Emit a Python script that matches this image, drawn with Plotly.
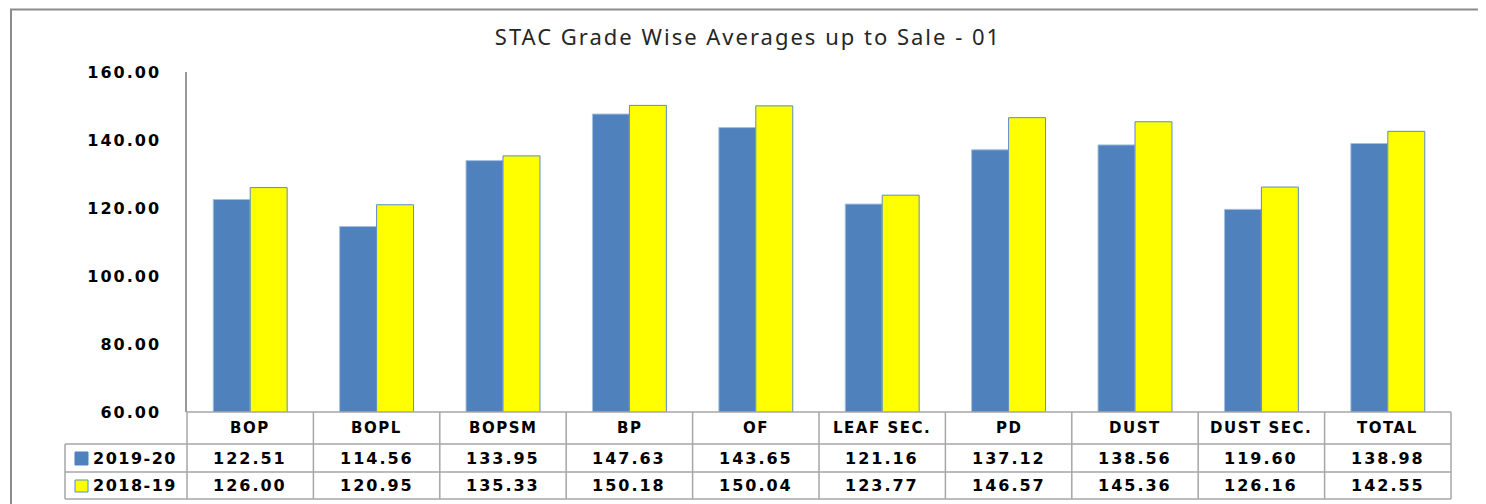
import plotly.graph_objects as go

categories = ["BOP", "BOPL", "BOPSM", "BP", "OF", "LEAF SEC.", "PD", "DUST", "DUST SEC.", "TOTAL"]
series_names = ["2019-20", "2018-19"]
values_2019_20 = [122.51, 114.56, 133.95, 147.63, 143.65, 121.16, 137.12, 138.56, 119.60, 138.98]
values_2018_19 = [126.00, 120.95, 135.33, 150.18, 150.04, 123.77, 146.57, 145.36, 126.16, 142.55]
title_text = "STAC Grade Wise Averages up to Sale - 01"

OFF = 8  # page body margin
W, H = 1486 - OFF, 504 - OFF
# plot area in reference pixels: x 187..1451, y 72..412
L = 187 - OFF
T = 72 - OFF
R = W - (1451 - OFF)
B = H - (412 - OFF)
pw, ph = W - L - R, H - T - B

def px_x(x):  # reference pixel -> paper x
    return (x - OFF - L) / pw

def px_y(y):  # reference pixel -> paper y
    return (H - B - (y - OFF)) / ph

BLUE = "#4F81BD"
YELLOW = "#FFFF00"
GRID = "#A6A6A6"
FONT = "DejaVu Sans"

def spaced(txt, sp):
    return "<span style='letter-spacing:%spx'><b>%s</b></span>" % (sp, txt)

fig = go.Figure()
fig.add_trace(go.Bar(x=categories, y=values_2019_20, name=series_names[0],
                     marker=dict(color=BLUE, line=dict(color="#A7C0DE", width=1))))
fig.add_trace(go.Bar(x=categories, y=values_2018_19, name=series_names[1],
                     marker=dict(color=YELLOW, line=dict(color="#5B8BC6", width=1))))

shapes = []
# outer frame
shapes.append(dict(type="rect", xref="paper", yref="paper",
                   x0=px_x(11), x1=px_x(1484), y0=px_y(530), y1=px_y(9.5),
                   line=dict(color="#8C8C8C", width=2), layer="below"))
# table rows
row_y = [px_y(412), px_y(444), px_y(472), px_y(499)]
left_x = px_x(65)
shapes.append(dict(type="line", xref="paper", yref="paper", x0=0, x1=1, y0=row_y[0], y1=row_y[0],
                   line=dict(color=GRID, width=1.5)))
for yy in row_y[1:]:
    shapes.append(dict(type="line", xref="paper", yref="paper", x0=left_x, x1=1, y0=yy, y1=yy,
                       line=dict(color=GRID, width=1.5)))
n = len(categories)
for i in range(n + 1):
    shapes.append(dict(type="line", xref="paper", yref="paper", x0=i / n, x1=i / n,
                       y0=row_y[0], y1=row_y[3], line=dict(color=GRID, width=1.5)))
shapes.append(dict(type="line", xref="paper", yref="paper", x0=left_x, x1=left_x,
                   y0=row_y[1], y1=row_y[3], line=dict(color=GRID, width=1.5)))
# legend swatches
shapes.append(dict(type="rect", xref="paper", yref="paper", x0=px_x(75), x1=px_x(88),
                   y0=px_y(465), y1=px_y(452), fillcolor=BLUE, line=dict(color=BLUE, width=1)))
shapes.append(dict(type="rect", xref="paper", yref="paper", x0=px_x(75), x1=px_x(88),
                   y0=px_y(492), y1=px_y(480), fillcolor=YELLOW, line=dict(color="#5B8BC6", width=1)))

annotations = []
cf = dict(family=FONT, size=15, color="#000000")
vf = dict(family=FONT, size=16, color="#000000")
cat_y = px_y(428)
r1_y = px_y(458)
r2_y = px_y(485.5)
for c, v1, v2 in zip(categories, values_2019_20, values_2018_19):
    annotations.append(dict(x=c, xref="x", y=cat_y, yref="paper", text=spaced(c, 1.5),
                            showarrow=False, font=cf, xanchor="center", yanchor="middle"))
    annotations.append(dict(x=c, xref="x", y=r1_y, yref="paper", text=spaced("%.2f" % v1, 2),
                            showarrow=False, font=vf, xanchor="center", yanchor="middle"))
    annotations.append(dict(x=c, xref="x", y=r2_y, yref="paper", text=spaced("%.2f" % v2, 2),
                            showarrow=False, font=vf, xanchor="center", yanchor="middle"))
for name, yy in zip(series_names, [r1_y, r2_y]):
    annotations.append(dict(x=px_x(91), xref="paper", y=yy, yref="paper", text=spaced(name, 1.5),
                            showarrow=False, font=vf, xanchor="left", yanchor="middle"))

fig.update_layout(
    width=W, height=H,
    margin=dict(l=L, r=R, t=T, b=B),
    paper_bgcolor="white", plot_bgcolor="white",
    showlegend=False,
    barmode="group", bargap=0.415, bargroupgap=0,
    title=dict(text="<span style='letter-spacing:2px'>%s</span>" % title_text,
               x=(748 - OFF) / W, xanchor="center",
               y=1 - (37 - OFF) / H, yanchor="middle",
               font=dict(family="Noto Sans", size=22, color="#262626")),
    xaxis=dict(showticklabels=False, showgrid=False, zeroline=False, showline=False, ticks=""),
    yaxis=dict(range=[60, 160], dtick=20, tickformat=".2f", showgrid=False, zeroline=False,
               showline=True, linecolor="#999999", linewidth=1.5, ticks="",
               ticklabelstandoff=21,
               tickfont=dict(family=FONT, size=16, color="#000"),
               tickprefix="<span style='letter-spacing:2px'><b>", ticksuffix="</b></span>"),
    shapes=shapes,
    annotations=annotations,
)

fig.write_html("out.html")
